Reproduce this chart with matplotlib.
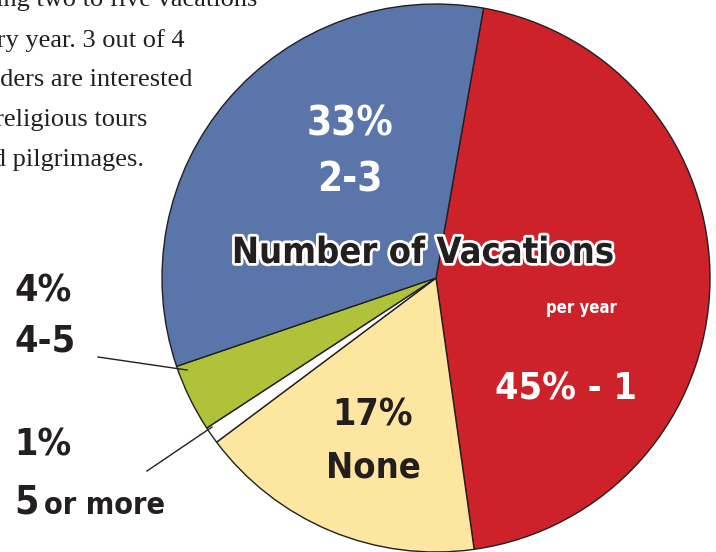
#!/usr/bin/env python3

import matplotlib
matplotlib.use("Agg")
import matplotlib.pyplot as plt
import matplotlib.patheffects as pe

# slices, clockwise from the top
shares = [45, 17, 1, 4, 33]
colors = ["#CD222A", "#FDE6A0", "#FFFFFF", "#B0C23A", "#5A75AA"]

blurb = [
  "taking two to five vacations",
  "every year. 3 out of 4",
  "readers are interested",
  "in religious tours",
  "and pilgrimages.",
]

W, H = 716, 552
INK = "#231F20"
COND = dict(family="DejaVu Sans", stretch="condensed", weight="bold")

def py(y):
  # pixel row (from the top) -> data y
  return H - y

fig = plt.figure(figsize=(W / 100, H / 100), dpi=100)
ax = fig.add_axes([0, 0, 1, 1])

ax.pie(shares, colors=colors, startangle=80, counterclock=False,
       center=(436, py(278)), radius=274,
       wedgeprops=dict(edgecolor=INK, linewidth=1.0))
ax.set_xlim(0, W)
ax.set_ylim(0, H)
ax.set_aspect("equal")
ax.axis("off")

# paragraph, cut by the left edge
ends = [257, 185, 193, 147, 144]
base = [6, 47, 86, 126, 166]
for line, x, y in zip(blurb, ends, base):
  ax.text(x, py(y), line, ha="right", va="baseline", fontsize=19,
          family=["Liberation Serif", "DejaVu Serif"], color=INK)

def label(x, y, s, size, color, **kw):
  ax.text(x, py(y), s, ha=kw.pop("ha", "center"), va="center", fontsize=size,
          color=color, **COND, **kw)

label(350, 125, "33%", 29, "white")
label(350, 180, "2-3", 29, "white")
label(566, 389, "45% - 1", 27, "white")
label(581, 308, "per year", 12, "white")
label(372, 416, "17%", 27, INK)
label(373, 468, "None", 26, INK)

label(423, 253, "Number of Vacations", 26, INK,
      path_effects=[pe.withStroke(linewidth=4, foreground="white")])

label(14, 292, "4%", 27, INK, ha="left")
label(14, 342, "4-5", 27, INK, ha="left")
label(14, 445, "1%", 27, INK, ha="left")
ax.text(14, py(514), "5", ha="left", va="baseline", fontsize=28,
        color=INK, **COND)
ax.text(44, py(514), "or more", ha="left", va="baseline", fontsize=22,
        color=INK, **COND)

# leader lines
ax.plot([98, 187], [py(357), py(370)], color=INK, lw=1.0)
ax.plot([147, 212], [py(471), py(427)], color=INK, lw=1.0)

fig.savefig("out.png", dpi=100)
